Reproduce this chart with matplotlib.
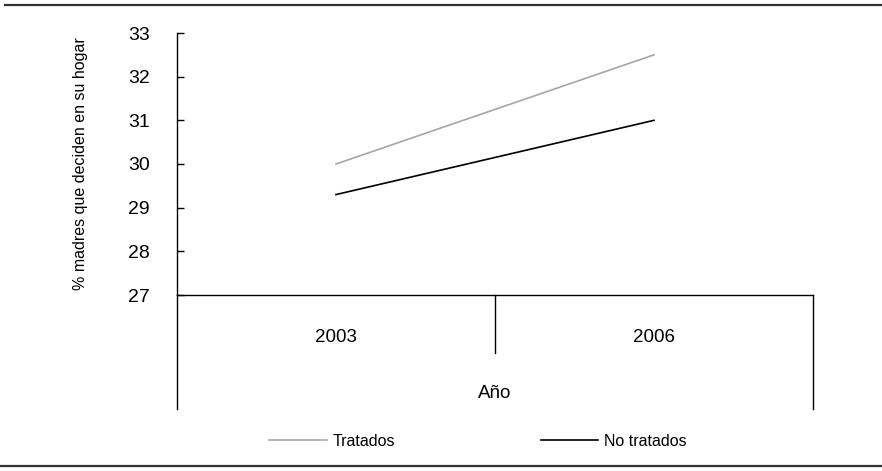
import matplotlib
matplotlib.use("Agg")
import matplotlib.pyplot as plt
from matplotlib.lines import Line2D

# data
years = ["2003", "2006"]
tratados = [30.0, 32.5]
no_tratados = [29.3, 31.0]
y_ticks = [27, 28, 29, 30, 31, 32, 33]

plt.rcParams["font.family"] = ["Liberation Sans", "DejaVu Sans"]

W, H = 882, 471
fig = plt.figure(figsize=(W / 100, H / 100), dpi=100)

# axes box in pixel terms: x 177..813, y 33..295
left, right, top, bottom = 177, 813, 33, 295
ax = fig.add_axes([left / W, 1 - bottom / H, (right - left) / W, (bottom - top) / H])

xpos = [0.5, 1.5]
ax.plot(xpos, tratados, color="#a6a6a6", lw=1.2, label="Tratados")
ax.plot(xpos, no_tratados, color="black", lw=1.2, label="No tratados")

ax.set_xlim(0, 2)
ax.set_ylim(27, 33)
ax.set_yticks(y_ticks)
ax.tick_params(axis="y", direction="in", length=5, width=1, labelsize=14, pad=19.5)
ax.set_xticks([])
for s in ["top", "right"]:
    ax.spines[s].set_visible(False)
ax.spines["left"].set_linewidth(1)
ax.spines["bottom"].set_linewidth(1)
ax.set_ylabel("% madres que deciden en su hogar", fontsize=11.5, labelpad=29)

# category table lines below the axis
ph = bottom - top
deep = -(409 - bottom) / ph
mid = -(353 - bottom) / ph
for xv, yv in [(0, deep), (1, mid), (2, deep)]:
    ax.plot([xv / 2, xv / 2], [0, yv], transform=ax.transAxes, color="black",
            lw=1, clip_on=False)
for xv, yr in zip(xpos, years):
    ax.text(xv, -(338 - bottom) / ph, yr, transform=ax.get_xaxis_transform(),
            ha="center", va="center", fontsize=13.5)
ax.text(0.5, -(394 - bottom) / ph, "Año", transform=ax.transAxes,
        ha="center", va="center", fontsize=13.5)

leg = ax.legend(loc="center", bbox_to_anchor=(478 / W, 1 - 441 / H),
                bbox_transform=fig.transFigure, ncol=2, frameon=False,
                handlelength=3.6, handletextpad=0.38, columnspacing=9.1,
                prop={"size": 11.5})

# rules at top and bottom of the figure
fig.add_artist(Line2D([5 / W, 1], [1 - 5 / H, 1 - 5 / H], color="#333333", lw=1.6))
fig.add_artist(Line2D([0, 1], [1 - 466 / H, 1 - 466 / H], color="#333333", lw=1.6))

fig.savefig("out.png", dpi=100)
